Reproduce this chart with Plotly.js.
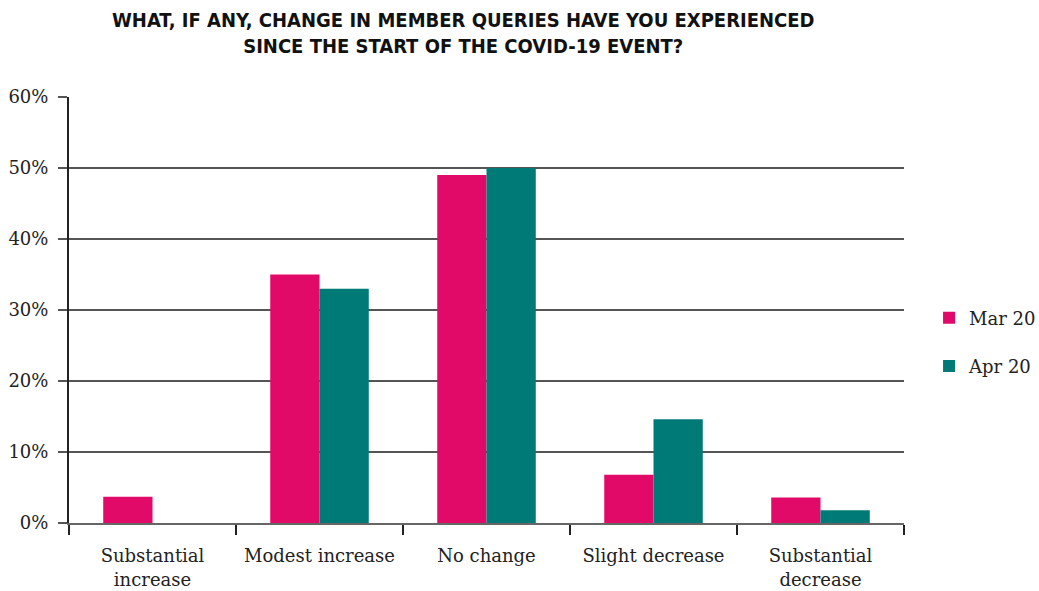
<!DOCTYPE html>
<html>
<head>
<meta charset="utf-8">
<script src="https://cdn.plot.ly/plotly-3.0.1.min.js"></script>
<style>html,body{margin:0;padding:0;background:#fff;}#chart{width:1039px;height:591px;}</style>
</head>
<body>
<div id="chart"></div>
<script>
var categories = ["Substantial<br>increase", "Modest increase", "No change", "Slight decrease", "Substantial<br>decrease"];
var mar20 = [3.7, 35, 49, 6.8, 3.6];
var apr20 = [0, 33, 50, 14.6, 1.8];
var seriesNames = ["Mar 20", "Apr 20"];
var yTickVals = [0, 10, 20, 30, 40, 50, 60];
var yTickText = ["0%", "10%", "20%", "30%", "40%", "50%", "60%"];
var titleText = "<b>WHAT, IF ANY, CHANGE IN MEMBER QUERIES HAVE YOU EXPERIENCED<br>SINCE THE START OF THE COVID-19 EVENT?</b>";

var serif = "Georgia, 'DejaVu Serif', serif";
var traces = [
  {type: "bar", name: seriesNames[0], x: categories, y: mar20, marker: {color: "#E20A69"}, legendgroup: "a", hoverinfo: "y"},
  {type: "bar", name: seriesNames[1], x: categories, y: apr20, marker: {color: "#007A77"}, legendgroup: "b", hoverinfo: "y"}
];
var layout = {
  width: 1039, height: 591,
  margin: {l: 69, r: 135, t: 97, b: 68, autoexpand: false},
  paper_bgcolor: "#fff", plot_bgcolor: "#fff",
  annotations: [{
    text: titleText, xref: "paper", yref: "paper",
    x: 0.473, xanchor: "center", y: 1.087, yanchor: "bottom",
    showarrow: false, align: "center",
    font: {family: "'Liberation Sans Narrow', 'DejaVu Sans Condensed', 'Roboto', sans-serif", size: 20, color: "#111"}
  }],
  barmode: "group",
  bargap: 0.41,
  bargroupgap: 0,
  showlegend: true,
  legend: {
    x: 1.03, xanchor: "left", y: 0.425, yanchor: "middle",
    font: {family: serif, size: 18, color: "#222"},
    tracegroupgap: 22, traceorder: "grouped"
  },
  xaxis: {
    type: "category",
    tickson: "boundaries",
    ticks: "outside", ticklen: 10, tickwidth: 2, tickcolor: "#222",
    showline: true, linecolor: "#666", linewidth: 1.5,
    showgrid: false,
    tickfont: {family: serif, size: 18, color: "#222"},
    ticklabelstandoff: 16,
    fixedrange: true
  },
  yaxis: {
    range: [0, 60],
    tickvals: yTickVals, ticktext: yTickText,
    ticks: "outside", ticklen: 9, tickwidth: 1.5, tickcolor: "#555",
    showgrid: true, gridcolor: "#555", gridwidth: 1.5,
    zeroline: false,
    showline: true, linecolor: "#222", linewidth: 2,
    tickfont: {family: serif, size: 18, color: "#222"},
    ticklabelstandoff: 6,
    fixedrange: true
  }
};
Plotly.newPlot("chart", traces, layout, {displayModeBar: false, staticPlot: true});
</script>
</body>
</html>
